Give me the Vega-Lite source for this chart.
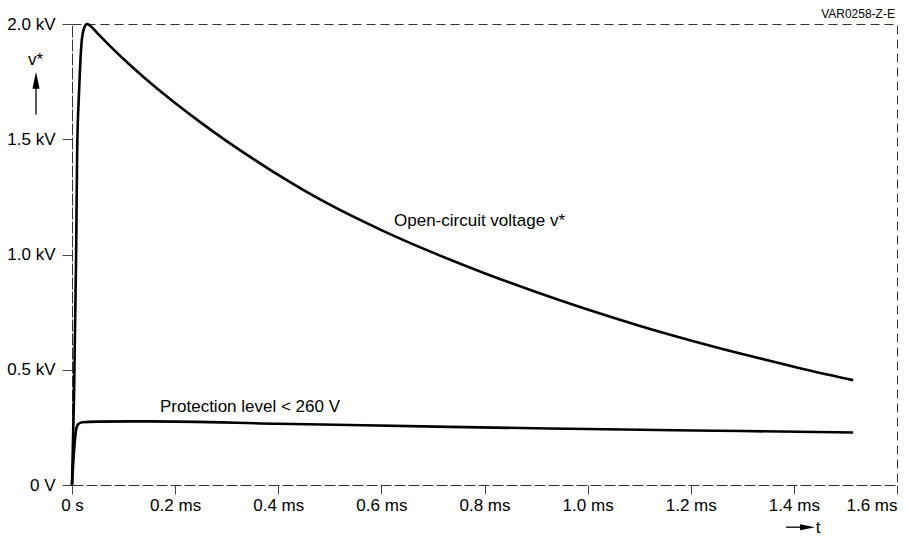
{
  "$schema": "https://vega.github.io/schema/vega-lite/v6.json",
  "width": 825,
  "height": 461,
  "autosize": {"type": "none"},
  "padding": {"left": 72, "top": 24, "right": 12, "bottom": 56},
  "background": "white",
  "config": {
    "font": "Liberation Sans",
    "view": {"stroke": "#333", "strokeDash": [9, 5], "strokeWidth": 1},
    "axis": {
      "domainColor": "#333", "domainDash": [9, 5], "domainWidth": 1,
      "tickColor": "#444", "tickWidth": 1, "grid": false,
      "labelFont": "Liberation Sans", "labelFontSize": 17, "labelColor": "#000"
    }
  },
  "datasets": {
    "curves": [
      {"t": 0, "v": 0, "series": "Open-circuit voltage v*"},
      {"t": 0.004, "v": 0.4, "series": "Open-circuit voltage v*"},
      {"t": 0.008, "v": 1.0, "series": "Open-circuit voltage v*"},
      {"t": 0.010, "v": 1.45, "series": "Open-circuit voltage v*"},
      {"t": 0.0136, "v": 1.7, "series": "Open-circuit voltage v*"},
      {"t": 0.019, "v": 1.93, "series": "Open-circuit voltage v*"},
      {"t": 0.024, "v": 1.985, "series": "Open-circuit voltage v*"},
      {"t": 0.029, "v": 2.0, "series": "Open-circuit voltage v*"},
      {"t": 0.035, "v": 1.993, "series": "Open-circuit voltage v*"},
      {"t": 0.05, "v": 1.958, "series": "Open-circuit voltage v*"},
      {"t": 0.075, "v": 1.902, "series": "Open-circuit voltage v*"},
      {"t": 0.1, "v": 1.848, "series": "Open-circuit voltage v*"},
      {"t": 0.125, "v": 1.797, "series": "Open-circuit voltage v*"},
      {"t": 0.15, "v": 1.748, "series": "Open-circuit voltage v*"},
      {"t": 0.2, "v": 1.657, "series": "Open-circuit voltage v*"},
      {"t": 0.25, "v": 1.572, "series": "Open-circuit voltage v*"},
      {"t": 0.3, "v": 1.492, "series": "Open-circuit voltage v*"},
      {"t": 0.35, "v": 1.417, "series": "Open-circuit voltage v*"},
      {"t": 0.4, "v": 1.345, "series": "Open-circuit voltage v*"},
      {"t": 0.45, "v": 1.278, "series": "Open-circuit voltage v*"},
      {"t": 0.5, "v": 1.216, "series": "Open-circuit voltage v*"},
      {"t": 0.6, "v": 1.106, "series": "Open-circuit voltage v*"},
      {"t": 0.7, "v": 1.008, "series": "Open-circuit voltage v*"},
      {"t": 0.8, "v": 0.919, "series": "Open-circuit voltage v*"},
      {"t": 0.9, "v": 0.837, "series": "Open-circuit voltage v*"},
      {"t": 1.0, "v": 0.761, "series": "Open-circuit voltage v*"},
      {"t": 1.1, "v": 0.691, "series": "Open-circuit voltage v*"},
      {"t": 1.2, "v": 0.627, "series": "Open-circuit voltage v*"},
      {"t": 1.3, "v": 0.568, "series": "Open-circuit voltage v*"},
      {"t": 1.4, "v": 0.513, "series": "Open-circuit voltage v*"},
      {"t": 1.5, "v": 0.462, "series": "Open-circuit voltage v*"},
      {"t": 1.515, "v": 0.455, "series": "Open-circuit voltage v*"},
      {"t": 0, "v": 0, "series": "Protection level"},
      {"t": 0.004, "v": 0.15, "series": "Protection level"},
      {"t": 0.008, "v": 0.24, "series": "Protection level"},
      {"t": 0.012, "v": 0.264, "series": "Protection level"},
      {"t": 0.02, "v": 0.272, "series": "Protection level"},
      {"t": 0.05, "v": 0.275, "series": "Protection level"},
      {"t": 0.15, "v": 0.276, "series": "Protection level"},
      {"t": 0.4, "v": 0.266, "series": "Protection level"},
      {"t": 0.733, "v": 0.252, "series": "Protection level"},
      {"t": 1.0, "v": 0.243, "series": "Protection level"},
      {"t": 1.3, "v": 0.234, "series": "Protection level"},
      {"t": 1.515, "v": 0.228, "series": "Protection level"}
    ],
    "labels": [
      {"t": 0.6245, "v": 1.122, "text": "Open-circuit voltage v*"},
      {"t": 0.1707, "v": 0.317, "text": "Protection level < 260 V"}
    ],
    "axisLabels": [
      {"t": -0.0708, "v": 1.823, "text": "v*"},
      {"t": 1.447, "v": -0.207, "text": "t"}
    ],
    "code": [
      {"t": 1.596, "v": 2.026, "text": "VAR0258-Z-E"}
    ],
    "shafts": [
      {"t": -0.0698, "v": 1.607, "t2": -0.0698, "v2": 1.74},
      {"t": 1.385, "v": -0.183, "t2": 1.425, "v2": -0.183}
    ],
    "headUp": [{"t": -0.0698, "v": 1.756}],
    "headRight": [{"t": 1.4265, "v": -0.183}]
  },
  "layer": [
    {
      "data": {"name": "curves"},
      "mark": {"type": "line", "color": "#000", "strokeWidth": 2.6, "interpolate": "monotone"},
      "encoding": {
        "x": {
          "field": "t", "type": "quantitative",
          "scale": {"domain": [0, 1.6], "nice": false, "zero": false},
          "axis": {
            "title": null, "values": [0, 0.2, 0.4, 0.6, 0.8, 1.0, 1.2, 1.4, 1.6],
            "labelExpr": "datum.value == 0 ? '0 s' : format(datum.value, '.1f') + ' ms'",
            "labelAlign": {"condition": {"test": "datum.value >= 1.59", "value": "right"}, "value": "center"},
            "tickSize": 9, "labelPadding": 3, "labelFlush": false, "labelOverlap": false
          }
        },
        "y": {
          "field": "v", "type": "quantitative",
          "scale": {"domain": [0, 2], "nice": false},
          "axis": {
            "title": null, "values": [0, 0.5, 1.0, 1.5, 2.0],
            "labelExpr": "datum.value == 0 ? '0 V' : format(datum.value, '.1f') + ' kV'",
            "tickSize": 10, "labelPadding": 7
          }
        },
        "detail": {"field": "series"}
      }
    },
    {
      "data": {"name": "labels"},
      "mark": {"type": "text", "align": "left", "baseline": "alphabetic", "fontSize": 17, "color": "#000"},
      "encoding": {
        "x": {"field": "t", "type": "quantitative"},
        "y": {"field": "v", "type": "quantitative"},
        "text": {"field": "text"}
      }
    },
    {
      "data": {"name": "axisLabels"},
      "mark": {"type": "text", "align": "center", "baseline": "alphabetic", "fontSize": 17, "color": "#000"},
      "encoding": {
        "x": {"field": "t", "type": "quantitative"},
        "y": {"field": "v", "type": "quantitative"},
        "text": {"field": "text"}
      }
    },
    {
      "data": {"name": "code"},
      "mark": {"type": "text", "align": "right", "baseline": "alphabetic", "fontSize": 12, "color": "#000"},
      "encoding": {
        "x": {"field": "t", "type": "quantitative"},
        "y": {"field": "v", "type": "quantitative"},
        "text": {"field": "text"}
      }
    },
    {
      "data": {"name": "shafts"},
      "mark": {"type": "rule", "color": "#000", "strokeWidth": 1.3},
      "encoding": {
        "x": {"field": "t", "type": "quantitative"},
        "y": {"field": "v", "type": "quantitative"},
        "x2": {"field": "t2"},
        "y2": {"field": "v2"}
      }
    },
    {
      "data": {"name": "headUp"},
      "mark": {"type": "point", "filled": true, "color": "#000", "opacity": 1, "size": 289, "shape": "M-0.42,1L0,-1L0.42,1Z"},
      "encoding": {
        "x": {"field": "t", "type": "quantitative"},
        "y": {"field": "v", "type": "quantitative"}
      }
    },
    {
      "data": {"name": "headRight"},
      "mark": {"type": "point", "filled": true, "color": "#000", "opacity": 1, "size": 225, "shape": "M-1,-0.4L1,0L-1,0.4Z"},
      "encoding": {
        "x": {"field": "t", "type": "quantitative"},
        "y": {"field": "v", "type": "quantitative"}
      }
    }
  ]
}
